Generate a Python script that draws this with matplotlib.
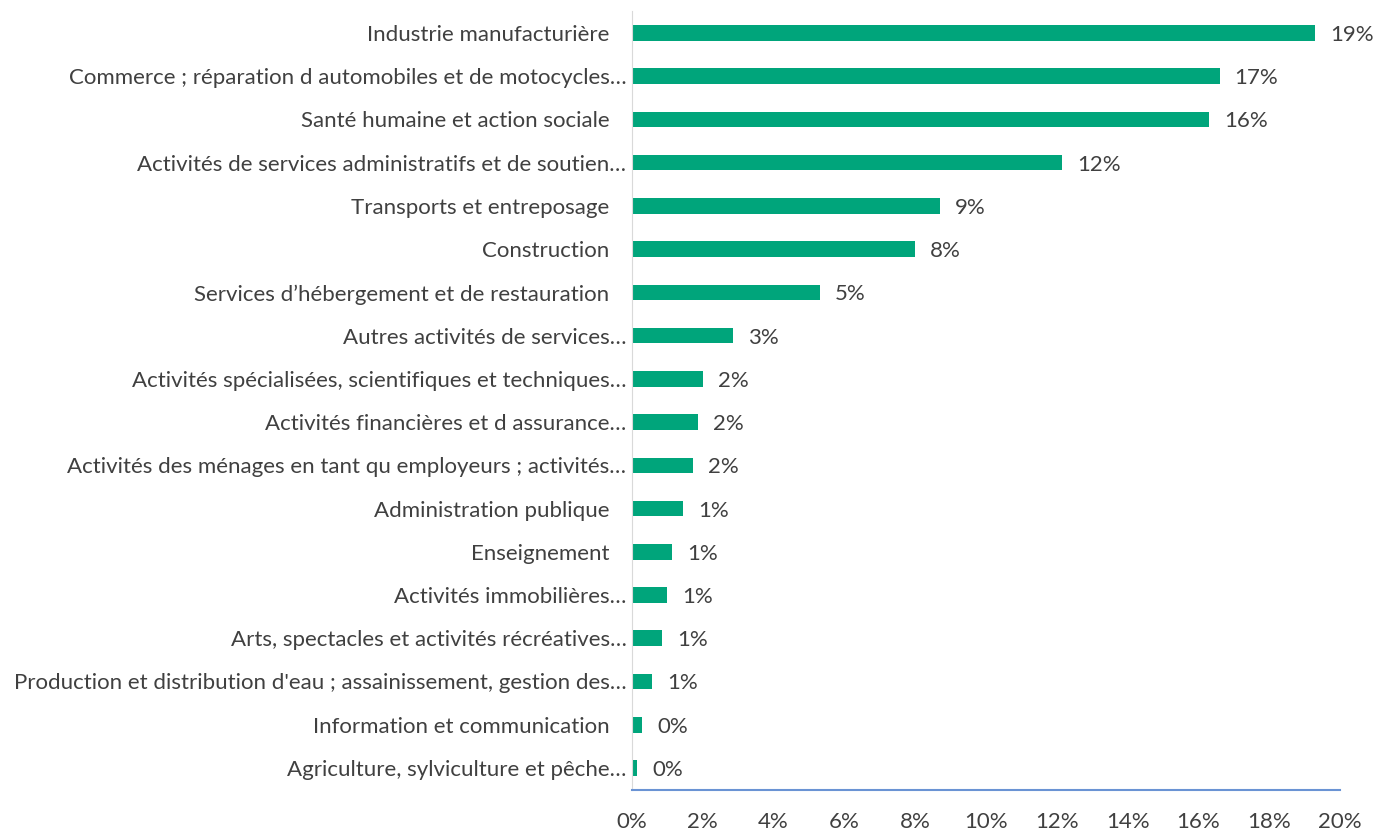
import matplotlib
matplotlib.use('Agg')
import matplotlib.pyplot as plt
from matplotlib.ticker import FuncFormatter


# categories top to bottom, as in the chart
SECTEURS = [
    'Industrie manufacturière   ',
    'Commerce ; réparation d automobiles et de motocycles…',
    'Santé humaine et action sociale   ',
    'Activités de services administratifs et de soutien…',
    'Transports et entreposage   ',
    'Construction   ',
    'Services d’hébergement et de restauration   ',
    'Autres activités de services…',
    'Activités spécialisées, scientifiques et techniques…',
    'Activités financières et d assurance…',
    'Activités des ménages en tant qu employeurs ; activités…',
    'Administration publique   ',
    'Enseignement   ',
    'Activités immobilières…',
    'Arts, spectacles et activités récréatives…',
    "Production et distribution d'eau ; assainissement, gestion des…",
    'Information et communication   ',
    'Agriculture, sylviculture et pêche…',
]
PARTS = [0.193, 0.166, 0.163, 0.1215, 0.087, 0.080, 0.053, 0.0285, 0.020,
         0.0186, 0.0172, 0.0144, 0.0113, 0.0099, 0.0085, 0.0056, 0.0028, 0.0014]
XTICKS = [0, 0.02, 0.04, 0.06, 0.08, 0.10, 0.12, 0.14, 0.16, 0.18, 0.20]

GREEN = '#00A57B'
TEXT = '#404040'

plt.rcParams['font.family'] = ['Lato', 'DejaVu Sans']

fig = plt.figure(figsize=(13.76, 8.30), dpi=100)
ax = fig.add_axes([0.4593, 0.0487, 0.5145, 0.9376])

y = list(range(len(SECTEURS)))
ax.barh(y, PARTS, height=0.36, color=GREEN)
ax.set_ylim(len(SECTEURS) - 0.5, -0.5)
ax.set_xlim(0, 0.20)

ax.set_yticks(y)
ax.set_yticklabels(SECTEURS, fontsize=16, color=TEXT)
ax.set_xticks(XTICKS)
ax.xaxis.set_major_formatter(FuncFormatter(lambda v, _: '{:.0f}%'.format(v * 100)))
ax.tick_params(axis='x', labelsize=16, labelcolor=TEXT, length=0, pad=16)
ax.tick_params(axis='y', length=0, pad=4)

# value labels just right of each bar
for yi, v in zip(y, PARTS):
    ax.annotate('{:.0f}%'.format(v * 100), (v, yi), xytext=(15, -2),
                textcoords='offset pixels',
                va='center', ha='left', fontsize=16, color=TEXT)

for side in ('top', 'right'):
    ax.spines[side].set_visible(False)
ax.spines['left'].set_color('#D9D9D9')
ax.spines['bottom'].set_color('#6A93D4')
ax.spines['bottom'].set_linewidth(1.5)

fig.savefig('out.png', dpi=100)
